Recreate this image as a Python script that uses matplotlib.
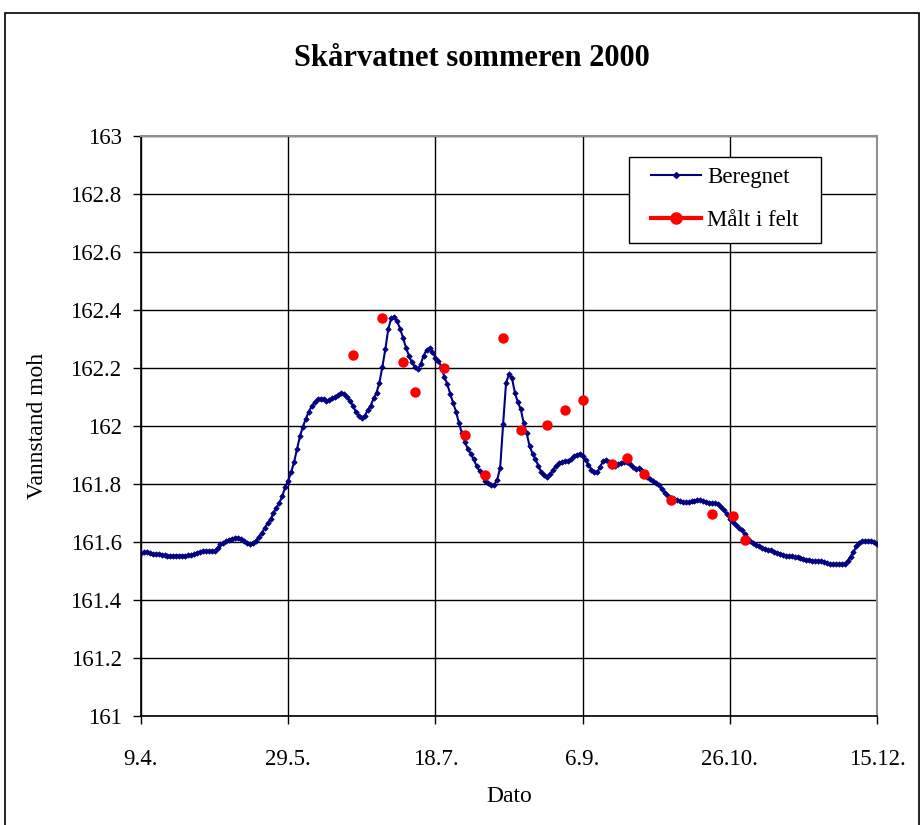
import matplotlib
matplotlib.use("Agg")
import matplotlib.pyplot as plt
from matplotlib.lines import Line2D
from matplotlib.patches import Rectangle

plt.rcParams['font.family'] = ['Liberation Serif', 'DejaVu Serif']

title = "Skårvatnet sommeren 2000"
xlabel = "Dato"
ylabel = "Vannstand moh"
tick_days = [0, 50, 100, 150, 200, 250]
tick_labels = ["9.4.", "29.5.", "18.7.", "6.9.", "26.10.", "15.12."]
y_ticks = [161, 161.2, 161.4, 161.6, 161.8, 162, 162.2, 162.4, 162.6, 162.8, 163]
y_tick_labels = ["161", "161.2", "161.4", "161.6", "161.8", "162", "162.2", "162.4", "162.6", "162.8", "163"]

# Beregnet: daily values from 9.4. (day 0) to 15.12. (day 250)
beregnet = [
    161.561, 161.565, 161.567, 161.563, 161.560, 161.559, 161.558, 161.556, 161.554, 161.553,
    161.553, 161.553, 161.553, 161.553, 161.553, 161.553, 161.554, 161.556, 161.559, 161.562,
    161.566, 161.568, 161.568, 161.568, 161.568, 161.570, 161.580, 161.592, 161.598, 161.603,
    161.607, 161.612, 161.615, 161.613, 161.609, 161.603, 161.596, 161.592, 161.597, 161.604,
    161.618, 161.630, 161.648, 161.665, 161.678, 161.700, 161.718, 161.735, 161.758, 161.790,
    161.812, 161.840, 161.876, 161.920, 161.965, 161.998, 162.025, 162.050, 162.068, 162.082,
    162.092, 162.094, 162.094, 162.086, 162.088, 162.095, 162.101, 162.108, 162.114, 162.110,
    162.100, 162.086, 162.070, 162.048, 162.035, 162.029, 162.035, 162.055, 162.070, 162.095,
    162.115, 162.150, 162.205, 162.265, 162.335, 162.372, 162.376, 162.362, 162.335, 162.305,
    162.270, 162.243, 162.220, 162.205, 162.195, 162.213, 162.243, 162.262, 162.268, 162.255,
    162.236, 162.224, 162.205, 162.170, 162.145, 162.112, 162.080, 162.050, 162.010, 161.975,
    161.945, 161.922, 161.905, 161.885, 161.862, 161.845, 161.826, 161.810, 161.803, 161.796,
    161.798, 161.815, 161.856, 162.006, 162.149, 162.178, 162.165, 162.115, 162.082, 162.058,
    162.010, 161.975, 161.930, 161.905, 161.885, 161.862, 161.840, 161.830, 161.823, 161.834,
    161.850, 161.863, 161.872, 161.877, 161.878, 161.880, 161.885, 161.895, 161.901, 161.905,
    161.895, 161.882, 161.866, 161.850, 161.841, 161.840, 161.860, 161.880, 161.883, 161.875,
    161.862, 161.862, 161.868, 161.872, 161.876, 161.877, 161.868, 161.858, 161.852, 161.855,
    161.848, 161.835, 161.825, 161.818, 161.812, 161.803, 161.795, 161.782, 161.770, 161.760,
    161.753, 161.748, 161.744, 161.740, 161.737, 161.737, 161.737, 161.740, 161.743, 161.745,
    161.745, 161.741, 161.738, 161.734, 161.733, 161.733, 161.730, 161.722, 161.710, 161.695,
    161.680, 161.670, 161.660, 161.650, 161.641, 161.628, 161.615, 161.605, 161.597, 161.591,
    161.586, 161.581, 161.577, 161.574, 161.571, 161.567, 161.563, 161.560, 161.556, 161.553,
    161.552, 161.551, 161.549, 161.547, 161.544, 161.541, 161.539, 161.538, 161.536, 161.534,
    161.533, 161.533, 161.530, 161.527, 161.524, 161.524, 161.524, 161.524, 161.524, 161.525,
    161.535, 161.550, 161.565, 161.585, 161.598, 161.602, 161.603, 161.603, 161.603, 161.601,
    161.593,
]
beregnet_days = list(range(len(beregnet)))

# Målt i felt: field measurements (day offset from 9.4.)
maalt_days = [72, 82, 89, 93, 103, 110, 117, 123, 129, 138, 144, 150, 160, 165, 171, 180, 194, 201, 205]
maalt_vals = [162.244, 162.374, 162.222, 162.117, 162.201, 161.968, 161.830, 162.305, 161.986,
              162.002, 162.054, 162.090, 161.869, 161.890, 161.835, 161.745, 161.698, 161.691, 161.608]

W, H = 924, 825
fig = plt.figure(figsize=(W / 100, H / 100), dpi=100)
ax = fig.add_axes([141 / W, 1 - 716 / H, 736 / W, 580 / H])

ax.plot(beregnet_days, beregnet, color='#000080', lw=1.5, marker='D', ms=2.8,
        markeredgewidth=0.5, zorder=3)
ax.plot(maalt_days, maalt_vals, linestyle='none', marker='o', ms=7.5,
        color='#ff0000', markeredgewidth=0, zorder=4)

ax.set_xlim(0, 250)
ax.set_ylim(161, 163)
ax.set_xticks(tick_days)
ax.set_xticklabels(tick_labels)
ax.set_yticks(y_ticks)
ax.set_yticklabels(y_tick_labels)
ax.tick_params(labelsize=16.5, length=6, width=1, color='black', direction='out')
ax.tick_params(axis='x', pad=17.5)
ax.tick_params(axis='y', pad=8)
ax.grid(True, color='black', lw=1)
ax.set_axisbelow(True)
for s in ['left', 'bottom']:
    ax.spines[s].set_color('black')
    ax.spines[s].set_linewidth(1.2)
for s in ['top', 'right']:
    ax.spines[s].set_color('#909090')
    ax.spines[s].set_linewidth(1.5)

fig.text(509 / W, 1 - 797 / H, xlabel, fontsize=17, ha='center', va='center')
fig.text(38 / W, 1 - 426 / H, ylabel, fontsize=17, rotation=90, ha='center', va='center')
fig.text(472 / W, 1 - 59 / H, title, fontsize=22, fontweight='bold',
         ha='center', va='center')

# legend frame box
fig.patches.append(Rectangle((629 / W, 1 - 243 / H), 192 / W, 86 / H, transform=fig.transFigure,
                             facecolor='white', edgecolor='black', lw=1, zorder=5))
handles = [
    Line2D([0], [0], color='#000080', lw=1.5, marker='D', ms=3),
    Line2D([0], [0], color='#ff0000', lw=3, marker='o', ms=8),
]
leg = fig.legend(handles, ["Beregnet", "Målt i felt"], loc='upper left',
                 bbox_to_anchor=(651 / W, 1 - 167 / H),
                 fontsize=16.5, frameon=False, borderpad=0, labelspacing=0.95,
                 handlelength=2.2, handletextpad=0.25, borderaxespad=0)
leg.set_zorder(6)

fig.patches.append(Rectangle((5 / W, -5 / H), 914 / W, 817 / H, transform=fig.transFigure,
                             fill=False, edgecolor='black', lw=1.2))

fig.savefig("out.png", dpi=100)
